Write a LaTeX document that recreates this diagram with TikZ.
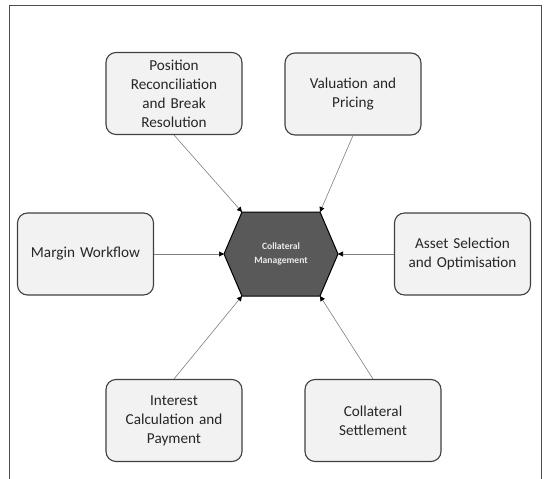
\documentclass[tikz,border=0pt]{standalone}
\usepackage{fontspec}
\setmainfont{Carlito}[BoldFont={Carlito Bold}]
\usetikzlibrary{arrows.meta}
\definecolor{boxfill}{HTML}{F2F2F2}
\definecolor{boxline}{HTML}{404040}
\definecolor{hexfill}{HTML}{595959}
\definecolor{arrline}{HTML}{7F7F7F}
\tikzset{
  procbox/.style={draw=boxline, line width=1.1pt, fill=boxfill, rounded corners=10pt,
    minimum width=136pt, minimum height=82pt, align=center, text width=126pt,
    font=\fontsize{15.2}{19}\selectfont, text=black!85, inner sep=0pt},
  conn/.style={draw=arrline, line width=0.6pt, -{Triangle[length=5pt,width=5pt,fill=black,color=black]}},
}
\begin{document}
\begin{tikzpicture}[x=1pt,y=-1pt]
\useasboundingbox (0,0) rectangle (544,479);
% frame
\draw[color=black!70, line width=1pt] (9,479) -- (9,5) -- (541,5) -- (541,479);
% hexagon
\coordinate (hTL) at (242,212);
\coordinate (hTR) at (320,212);
\coordinate (hR) at (338,254);
\coordinate (hBR) at (320,296);
\coordinate (hBL) at (242,296);
\coordinate (hL) at (224,254);
\draw[fill=hexfill, draw=black, line width=1pt] (hTL) -- (hTR) -- (hR) -- (hBR) -- (hBL) -- (hL) -- cycle;
\node[text=white!92!black, font=\bfseries\fontsize{9.6}{13.5}\selectfont, align=center] (hex) at (281,254) {Collateral\\Management};
% boxes
\node[procbox] (pos) at (174,93.5) {Position\\Reconciliation\\and Break\\Resolution};
\node[procbox] (val) at (353,94) {Valuation and\\Pricing};
\node[procbox] (mar) at (85.5,254) {Margin Workflow};
\node[procbox] (ass) at (462.5,254) {Asset Selection\\and Optimisation};
\node[procbox] (int) at (174,420.5) {Interest\\Calculation and\\Payment};
\node[procbox] (set) at (373,420.5) {Collateral\\Settlement};
% connectors
\draw[conn] (pos.south) -- (hTL);
\draw[conn] (val.south) -- (hTR);
\draw[conn] (mar.east) -- (hL);
\draw[conn] (ass.west) -- (hR);
\draw[conn] (int.north) -- (hBL);
\draw[conn] (set.north) -- (hBR);
\end{tikzpicture}
\end{document}
